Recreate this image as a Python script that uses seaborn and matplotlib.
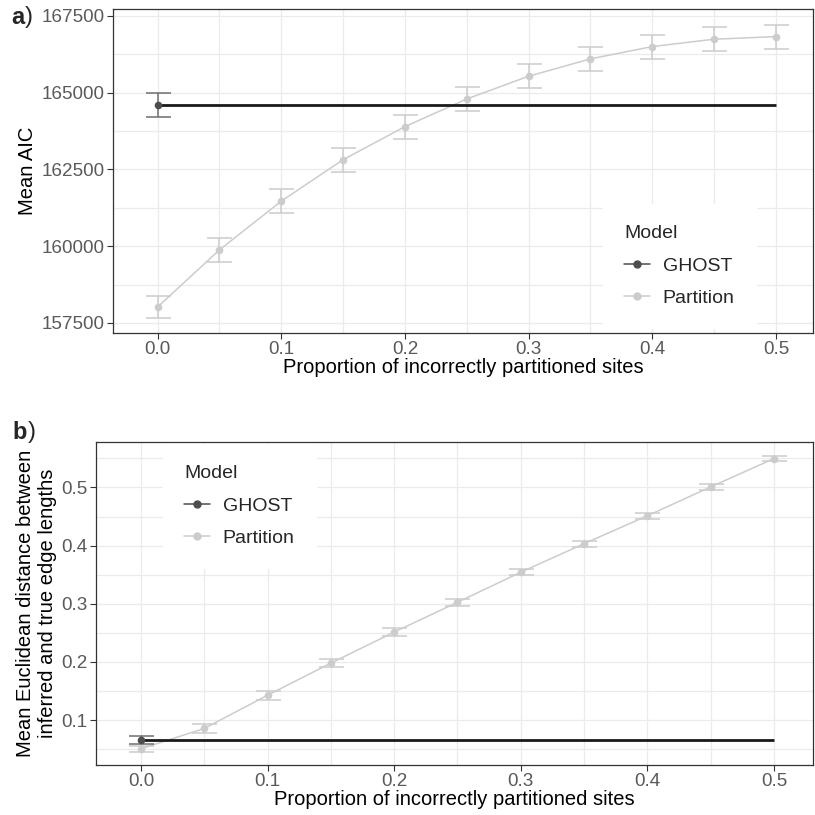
import numpy as np
import pandas as pd
import seaborn as sns
import matplotlib
matplotlib.use("Agg")
import matplotlib.pyplot as plt
from matplotlib.lines import Line2D

# ---------------- data ----------------
proportions = [0.0, 0.05, 0.10, 0.15, 0.20, 0.25, 0.30, 0.35, 0.40, 0.45, 0.50]

aic_partition = [158020, 159880, 161465, 162815, 163890, 164790, 165530, 166095, 166495, 166735, 166820]
aic_partition_err = [360, 380, 390, 390, 390, 390, 390, 390, 390, 390, 390]
aic_ghost = 164585
aic_ghost_err = 390

dist_partition = [0.0508, 0.0857, 0.1429, 0.1980, 0.2514, 0.3027, 0.3543, 0.4034, 0.4514, 0.5010, 0.5497]
dist_partition_err = [0.005, 0.007, 0.0074, 0.007, 0.0066, 0.006, 0.0055, 0.005, 0.005, 0.005, 0.005]
dist_ghost = 0.0657
dist_ghost_err = 0.0063

models = ["GHOST", "Partition"]
x_ticks = [0.0, 0.1, 0.2, 0.3, 0.4, 0.5]
x_ticklabels = ["0.0", "0.1", "0.2", "0.3", "0.4", "0.5"]
aic_ticks = [157500, 160000, 162500, 165000, 167500]
dist_ticks = [0.1, 0.2, 0.3, 0.4, 0.5]

# ---------------- style ----------------
sns.set_theme(style="white")
plt.rcParams["font.family"] = ["Liberation Sans", "DejaVu Sans"]

col_ghost = "#4D4D4D"
col_ghost_cap = "#6E6E6E"
col_part = "#CCCCCC"
col_hline = "#1A1A1A"
grid_col = "#EBEBEB"
tick_lab_col = "#5A5A5A"

fig = plt.figure(figsize=(8.15, 8.15), dpi=100)
W = H = 815.0

def add_axes(left, right, top, bottom):
    return fig.add_axes([left / W, 1 - bottom / H, (right - left) / W, (bottom - top) / H])

ax_a = add_axes(113, 813, 9, 333)
ax_b = add_axes(96, 813, 442, 765)


def build_panel(ax, part_vals, part_err, ghost_val, ghost_err, ylim, yticks, yfmt, ylabel,
                xlim, legend_anchor_px):
    df = pd.DataFrame({"x": proportions, "y": part_vals, "err": part_err,
                       "Model": "Partition"})
    gdf = pd.DataFrame({"x": [proportions[0]], "y": [ghost_val], "err": [ghost_err],
                        "Model": "GHOST"})
    # grid (major + minor, ggplot theme_bw look)
    ax.set_axisbelow(True)
    for xv in np.arange(-0.05, 0.56, 0.05):
        ax.axvline(xv, color=grid_col, lw=0.9, zorder=0)
    ystep = yticks[1] - yticks[0]
    for yv in np.arange(yticks[0] - ystep, yticks[-1] + ystep * 1.01, ystep / 2):
        ax.axhline(yv, color=grid_col, lw=0.9, zorder=0)

    # partition: error bars, line and points
    ax.errorbar(df["x"], df["y"], yerr=df["err"], fmt="none", ecolor=col_part,
                elinewidth=1.1, capsize=9, capthick=1.1, zorder=2)
    sns.lineplot(data=df, x="x", y="y", ax=ax, color=col_part, lw=1.1,
                 marker="o", markersize=5.5, markeredgewidth=0, zorder=3, legend=False)

    # ghost: error bar, reference line, point
    ax.errorbar(gdf["x"], gdf["y"], yerr=gdf["err"], fmt="none", ecolor=col_ghost_cap,
                elinewidth=1.1, capsize=9, capthick=1.1, zorder=4)
    ax.hlines(ghost_val, proportions[0], proportions[-1], color=col_hline, lw=2.0, zorder=5)
    sns.scatterplot(data=gdf, x="x", y="y", ax=ax, color=col_ghost, s=30, linewidth=0,
                    zorder=6, legend=False)

    ax.set_xlim(*xlim)
    ax.set_ylim(*ylim)
    ax.set_xticks(x_ticks)
    ax.set_xticklabels(x_ticklabels)
    ax.set_yticks(yticks)
    ax.set_yticklabels([yfmt(v) for v in yticks])
    ax.tick_params(axis="both", which="major", direction="out", length=4, width=0.8,
                   color="#333333", labelcolor=tick_lab_col, labelsize=13.6, pad=2,
                   bottom=True, left=True)
    for s in ax.spines.values():
        s.set_color("#333333")
        s.set_linewidth(0.9)
        s.set_visible(True)
    ax.set_xlabel("Proportion of incorrectly partitioned sites", fontsize=14.5,
                  color="black", labelpad=0)
    ax.set_ylabel(ylabel, fontsize=14.5, color="black", labelpad=3)

    handles = [Line2D([0], [0], color=col_ghost, lw=1.1, marker="o", markersize=5),
               Line2D([0], [0], color=col_part, lw=1.1, marker="o", markersize=5)]
    lx, ly = legend_anchor_px
    leg = ax.legend(handles, models, title="Model", loc="upper left",
                    bbox_to_anchor=(lx / W, 1 - ly / H), bbox_transform=fig.transFigure,
                    frameon=True, fontsize=14, title_fontsize=14, handlelength=1.3,
                    borderpad=1.1, labelspacing=0.75, handletextpad=0.67,
                    borderaxespad=0)
    leg.get_frame().set_edgecolor("white")
    leg.get_frame().set_facecolor("white")
    leg.get_frame().set_alpha(1)
    leg.get_frame().set_boxstyle("square", pad=0)
    leg._legend_box.align = "left"
    return ax


build_panel(ax_a, aic_partition, aic_partition_err, aic_ghost, aic_ghost_err,
            (157174, 167718), aic_ticks, lambda v: f"{v:d}", "Mean AIC",
            (-0.0361, 0.530), (603, 204))
build_panel(ax_b, dist_partition, dist_partition_err, dist_ghost, dist_ghost_err,
            (0.0229, 0.5782), dist_ticks, lambda v: f"{v:.1f}",
            "Mean Euclidean distance between\ninferred and true edge lengths",
            (-0.0355, 0.5308), (163, 444))

# panel labels
fig.text(11 / W, 1 - 17 / H, "a", fontsize=17, fontweight="bold", va="center", ha="left")
fig.text(25 / W, 1 - 17 / H, ")", fontsize=17, va="center", ha="left")
fig.text(12 / W, 1 - 432 / H, "b", fontsize=17, fontweight="bold", va="center", ha="left")
fig.text(28 / W, 1 - 432 / H, ")", fontsize=17, va="center", ha="left")

fig.savefig("out.png", dpi=100)
